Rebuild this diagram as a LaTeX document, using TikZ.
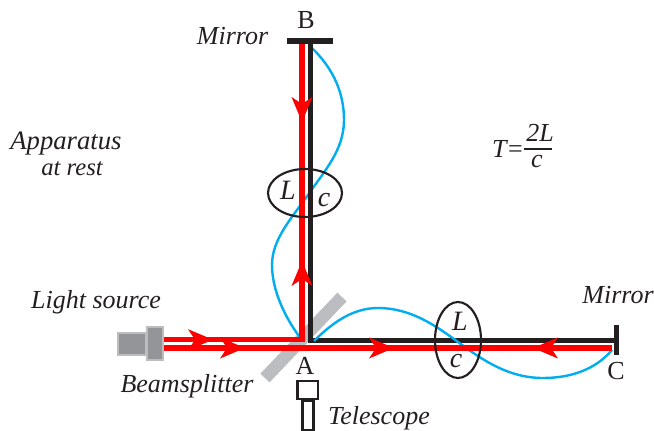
\documentclass[tikz,border=0pt]{standalone}
\usepackage{fontspec}
\setmainfont{Liberation Serif}
\definecolor{ink}{HTML}{231F20}
\definecolor{skyb}{HTML}{00AEEF}
\definecolor{grayA}{HTML}{BCBDC0}
\definecolor{grayB}{HTML}{939598}
\definecolor{beamred}{HTML}{FF0000}
\tikzset{
  x=0.75pt,y=-0.75pt,
  lab/.style={font=\fontsize{19.5}{22}\selectfont\itshape,text=ink,inner sep=0pt,anchor=center},
  upl/.style={font=\fontsize{19.5}{22}\selectfont,text=ink,inner sep=0pt,anchor=center},
  big/.style={font=\fontsize{21}{24}\selectfont\itshape,text=ink,inner sep=0pt,anchor=center},
  beam/.style={draw=beamred,line width=4.2pt},
  blackarm/.style={draw=ink,line width=3.9pt,line join=miter},
  wave/.style={draw=skyb,line width=1.8pt},
  mirrorbar/.style={fill=ink,draw=none},
  headfill/.style={fill=beamred,draw=none},
  srcbox/.style={fill=grayB,draw=grayA,line width=2pt},
  scopebox/.style={draw=ink,line width=1.6pt,fill=white},
}
\begin{document}
\begin{tikzpicture}
\useasboundingbox (0,0) rectangle (654,431);
% anchor points
\coordinate (A) at (310.2,340.8);
\coordinate (Bp) at (310.2,42);
\coordinate (Cp) at (614,340.8);
\coordinate (rB) at (302,44);
\coordinate (rU) at (302,342.5);
\coordinate (s1) at (164,339.7);
\coordinate (s1e) at (304.8,339.7);
\coordinate (s2) at (164,348);
\coordinate (s2e) at (612,348);
% beamsplitter
\draw[grayA,line width=9.5pt] (265,378) -- (342,297);
% blue waves
\draw[wave] (311,47) .. controls (335,70) and (344,95) .. (344,120)
  .. controls (344,150) and (325,170) .. (308,195)
  .. controls (290,220) and (272,240) .. (272,265)
  .. controls (272,295) and (290,325) .. (302,340);
% arms
\draw[blackarm] (Bp) -- (A) -- (Cp);
\draw[wave] (314,341) .. controls (335,320) and (355,308) .. (378,308)
  .. controls (410,308) and (435,325) .. (458,342)
  .. controls (485,362) and (510,378) .. (543,378)
  .. controls (570,378) and (595,370) .. (612,350);
\draw[beam] (rB) -- (rU);
\draw[beam] (s1) -- (s1e);
\draw[beam] (s2) -- (s2e);
% arrowheads: back-end position and direction
\foreach \hx/\hy/\ang in {188/339.7/0,220/348/0,302/97/-90,302/286/90,369/348/0,558/348/180}{
  \begin{scope}[shift={(\hx,\hy)},rotate=\ang]
    \fill[headfill] (0,-10.5) -- (25,0) -- (0,10.5) -- (7,0) -- cycle;
  \end{scope}
}
% mirrors
\fill[mirrorbar] (287,38.5) rectangle (333,44);
\fill[mirrorbar] (613.5,325) rectangle (618.5,355);
% light source
\draw[srcbox] (118,333) rectangle (146,355);
\draw[srcbox] (147,327) rectangle (163,360);
% telescope
\draw[scopebox] (297.5,381) rectangle (318,399);
\draw[scopebox] (302.5,401) rectangle (313.5,430);
% ellipses
\draw[draw=ink,line width=1.6pt] (305,193) ellipse [x radius=37,y radius=24];
\draw[draw=ink,line width=1.6pt] (458,340) ellipse [x radius=23,y radius=38];
% labels
\node[lab] (m1) at (232.5,36) {Mirror};
\node[lab] (m2) at (618,295) {Mirror};
\node[upl] (B) at (306,20) {B};
\node[upl] (Al) at (305,366) {A};
\node[upl] (C) at (616,371) {C};
\node[lab,font=\fontsize{20}{22}\selectfont\itshape] (app) at (66,144) {Apparatus};
\node[lab,font=\fontsize{18.5}{22}\selectfont\itshape] (rest) at (72,168.5) {at rest};
\node[lab] (ls) at (96,302) {Light source};
\node[lab] (bs) at (187,386) {Beamsplitter};
\node[lab] (tel) at (379,418) {Telescope};
\node[big] (L1) at (288,190) {L};
\node[big] (c1) at (324,200) {c};
\node[big] (L2) at (460,321) {L};
\node[big] (c2) at (456,361) {c};
\node[lab,anchor=east] (T) at (523,149) {T\textup{=}};
\node[lab] (num) at (540,133) {2L};
\node[lab] (den) at (537,162) {c};
\coordinate (fl) at (524,149); \coordinate (fr) at (552,149);
\draw[ink,line width=1pt] (fl) -- (fr);
\end{tikzpicture}
\end{document}
